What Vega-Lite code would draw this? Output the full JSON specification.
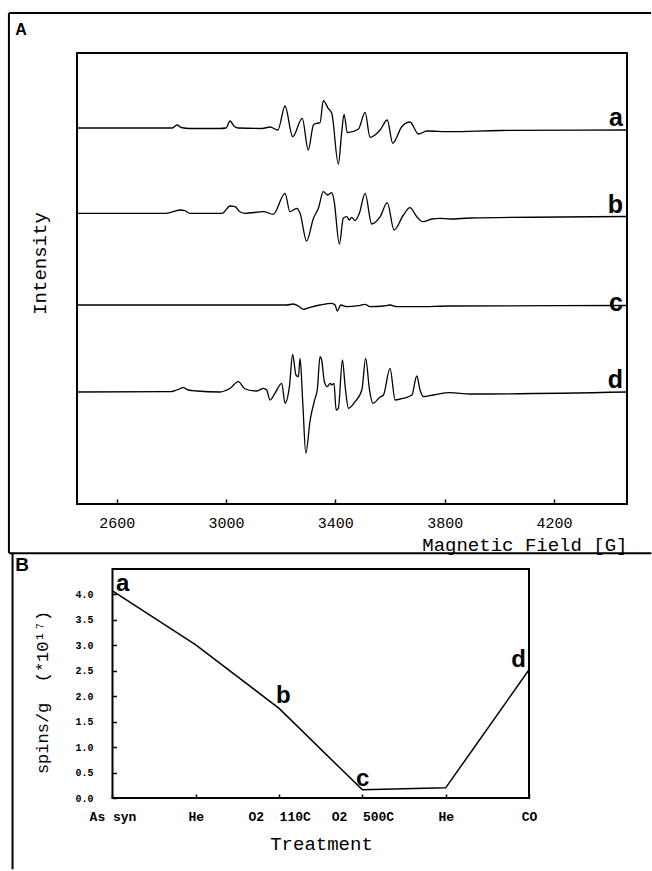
{
  "$schema": "https://vega.github.io/schema/vega-lite/v6.json",
  "padding": {"left": 6, "top": 11, "right": 0, "bottom": 0},
  "background": "white",
  "spacing": -3,
  "config": {
    "view": {"stroke": "black", "strokeWidth": 2},
    "axis": {"grid": false, "domain": false, "labelColor": "black", "titleColor": "black", "tickColor": "black", "tickWidth": 1.5, "labelFlush": false, "labelOverlap": false, "titleFontWeight": "normal", "titleFont": "Liberation Mono", "labelFont": "Liberation Mono"}
  },
  "datasets": {
    "epr": [
      {"trace":"a","field":2455,"intensity":376},{"trace":"a","field":2795,"intensity":376},{"trace":"a","field":2803,"intensity":376},{"trace":"a","field":2821,"intensity":379},{"trace":"a","field":2836,"intensity":376.5},{"trace":"a","field":2868,"intensity":375.5},{"trace":"a","field":2978,"intensity":375.5},{"trace":"a","field":3000,"intensity":376},{"trace":"a","field":3015,"intensity":383},{"trace":"a","field":3029,"intensity":378},{"trace":"a","field":3044,"intensity":376},{"trace":"a","field":3132,"intensity":375.5},{"trace":"a","field":3161,"intensity":377},{"trace":"a","field":3190,"intensity":374},{"trace":"a","field":3216,"intensity":398},{"trace":"a","field":3244,"intensity":367.3},{"trace":"a","field":3279,"intensity":385.7},{"trace":"a","field":3301,"intensity":354},{"trace":"a","field":3320,"intensity":379},{"trace":"a","field":3332,"intensity":380.7},{"trace":"a","field":3344,"intensity":381.3},{"trace":"a","field":3356,"intensity":403.3},{"trace":"a","field":3374,"intensity":395.7},{"trace":"a","field":3387,"intensity":390.7},{"trace":"a","field":3411,"intensity":340},{"trace":"a","field":3423,"intensity":370.7},{"trace":"a","field":3432,"intensity":389.7},{"trace":"a","field":3444,"intensity":371.3},{"trace":"a","field":3484,"intensity":374.7},{"trace":"a","field":3509,"intensity":391.7},{"trace":"a","field":3527,"intensity":366.7},{"trace":"a","field":3564,"intensity":374},{"trace":"a","field":3590,"intensity":384},{"trace":"a","field":3610,"intensity":360.7},{"trace":"a","field":3643,"intensity":377.3},{"trace":"a","field":3673,"intensity":382},{"trace":"a","field":3704,"intensity":370},{"trace":"a","field":3735,"intensity":373},{"trace":"a","field":3820,"intensity":372.3},{"trace":"a","field":4003,"intensity":373.5},{"trace":"a","field":4467,"intensity":374},
      {"trace":"b","field":2455,"intensity":290.7},{"trace":"b","field":2777,"intensity":290.7},{"trace":"b","field":2807,"intensity":292.3},{"trace":"b","field":2832,"intensity":294},{"trace":"b","field":2850,"intensity":293.3},{"trace":"b","field":2868,"intensity":290.7},{"trace":"b","field":2986,"intensity":290.7},{"trace":"b","field":3015,"intensity":298},{"trace":"b","field":3033,"intensity":297.3},{"trace":"b","field":3051,"intensity":292.3},{"trace":"b","field":3070,"intensity":290.7},{"trace":"b","field":3137,"intensity":292.3},{"trace":"b","field":3173,"intensity":289.7},{"trace":"b","field":3216,"intensity":310.7},{"trace":"b","field":3234,"intensity":292.3},{"trace":"b","field":3259,"intensity":295.7},{"trace":"b","field":3271,"intensity":290.7},{"trace":"b","field":3295,"intensity":263},{"trace":"b","field":3320,"intensity":285.7},{"trace":"b","field":3338,"intensity":295.7},{"trace":"b","field":3356,"intensity":312.3},{"trace":"b","field":3372,"intensity":309},{"trace":"b","field":3387,"intensity":311.3},{"trace":"b","field":3395,"intensity":304},{"trace":"b","field":3415,"intensity":260},{"trace":"b","field":3429,"intensity":285.7},{"trace":"b","field":3442,"intensity":287.3},{"trace":"b","field":3451,"intensity":284},{"trace":"b","field":3460,"intensity":286.7},{"trace":"b","field":3472,"intensity":283.3},{"trace":"b","field":3488,"intensity":290.7},{"trace":"b","field":3509,"intensity":310.7},{"trace":"b","field":3533,"intensity":280},{"trace":"b","field":3564,"intensity":287.3},{"trace":"b","field":3590,"intensity":301.3},{"trace":"b","field":3615,"intensity":274},{"trace":"b","field":3649,"intensity":289},{"trace":"b","field":3673,"intensity":296.3},{"trace":"b","field":3698,"intensity":287.3},{"trace":"b","field":3720,"intensity":282.3},{"trace":"b","field":3753,"intensity":285},{"trace":"b","field":3783,"intensity":285.7},{"trace":"b","field":3820,"intensity":285},{"trace":"b","field":3893,"intensity":286},{"trace":"b","field":4467,"intensity":287.5},
      {"trace":"c","field":2455,"intensity":199},{"trace":"c","field":3222,"intensity":199},{"trace":"c","field":3246,"intensity":200},{"trace":"c","field":3265,"intensity":198},{"trace":"c","field":3283,"intensity":194.7},{"trace":"c","field":3308,"intensity":196.7},{"trace":"c","field":3344,"intensity":199},{"trace":"c","field":3387,"intensity":200.7},{"trace":"c","field":3399,"intensity":199},{"trace":"c","field":3407,"intensity":193},{"trace":"c","field":3420,"intensity":199},{"trace":"c","field":3442,"intensity":197.3},{"trace":"c","field":3484,"intensity":198.3},{"trace":"c","field":3509,"intensity":199.7},{"trace":"c","field":3527,"intensity":197.3},{"trace":"c","field":3576,"intensity":198},{"trace":"c","field":3600,"intensity":199},{"trace":"c","field":3625,"intensity":197.3},{"trace":"c","field":3698,"intensity":197.3},{"trace":"c","field":3820,"intensity":198},{"trace":"c","field":4467,"intensity":198.5},
      {"trace":"d","field":2455,"intensity":112},{"trace":"d","field":2795,"intensity":112.3},{"trace":"d","field":2820,"intensity":114},{"trace":"d","field":2844,"intensity":116.3},{"trace":"d","field":2862,"intensity":114},{"trace":"d","field":2893,"intensity":113},{"trace":"d","field":2978,"intensity":112},{"trace":"d","field":3015,"intensity":115.7},{"trace":"d","field":3045,"intensity":122.3},{"trace":"d","field":3070,"intensity":115},{"trace":"d","field":3113,"intensity":113},{"trace":"d","field":3137,"intensity":115.7},{"trace":"d","field":3149,"intensity":114},{"trace":"d","field":3161,"intensity":104},{"trace":"d","field":3179,"intensity":110.7},{"trace":"d","field":3204,"intensity":120.7},{"trace":"d","field":3216,"intensity":100.7},{"trace":"d","field":3232,"intensity":117.3},{"trace":"d","field":3244,"intensity":149.7},{"trace":"d","field":3256,"intensity":129},{"trace":"d","field":3265,"intensity":127.3},{"trace":"d","field":3271,"intensity":145.7},{"trace":"d","field":3281,"intensity":100.7},{"trace":"d","field":3292,"intensity":50.7},{"trace":"d","field":3308,"intensity":84},{"trace":"d","field":3326,"intensity":105.7},{"trace":"d","field":3334,"intensity":114},{"trace":"d","field":3344,"intensity":147.3},{"trace":"d","field":3350,"intensity":144},{"trace":"d","field":3360,"intensity":122.3},{"trace":"d","field":3371,"intensity":117.3},{"trace":"d","field":3381,"intensity":120.7},{"trace":"d","field":3387,"intensity":119},{"trace":"d","field":3395,"intensity":120.7},{"trace":"d","field":3403,"intensity":94},{"trace":"d","field":3411,"intensity":95.7},{"trace":"d","field":3426,"intensity":144},{"trace":"d","field":3436,"intensity":117.3},{"trace":"d","field":3448,"intensity":95.7},{"trace":"d","field":3472,"intensity":102.3},{"trace":"d","field":3497,"intensity":114},{"trace":"d","field":3511,"intensity":145.7},{"trace":"d","field":3525,"intensity":114},{"trace":"d","field":3537,"intensity":100.7},{"trace":"d","field":3564,"intensity":107},{"trace":"d","field":3576,"intensity":109},{"trace":"d","field":3600,"intensity":135.7},{"trace":"d","field":3619,"intensity":104},{"trace":"d","field":3649,"intensity":105.7},{"trace":"d","field":3680,"intensity":109},{"trace":"d","field":3698,"intensity":128},{"trace":"d","field":3710,"intensity":114},{"trace":"d","field":3722,"intensity":107.3},{"trace":"d","field":3759,"intensity":109},{"trace":"d","field":3820,"intensity":111.3},{"trace":"d","field":3893,"intensity":110},{"trace":"d","field":4467,"intensity":112}
    ],
    "spins": [
      {"step":0,"treatment":"As syn","spins":4.07,"label":"a"},
      {"step":1,"treatment":"He","spins":3.01,"label":""},
      {"step":2,"treatment":"O2 110C","spins":1.76,"label":"b"},
      {"step":3,"treatment":"O2 500C","spins":0.16,"label":"c"},
      {"step":4,"treatment":"He","spins":0.2,"label":""},
      {"step":5,"treatment":"CO","spins":2.52,"label":"d"}
    ]
  },
  "vconcat": [
    {
      "width": 550,
      "height": 451,
      "layer": [
        {
          "data": {"name": "epr"},
          "mark": {"type": "line", "color": "black", "strokeWidth": 1.3, "interpolate": "monotone"},
          "encoding": {
            "x": {"field": "field", "type": "quantitative", "scale": {"domain": [2455, 4467], "nice": false, "zero": false},
              "axis": {"title": "Magnetic Field [G]", "values": [2600, 3000, 3400, 3800, 4200], "tickCount": 10, "format": "d", "labelOverlap": false, "labelFontSize": 15, "tickSize": -5, "labelPadding": 16, "titleFontSize": 19, "titleAnchor": "end", "titlePadding": 5}},
            "y": {"field": "intensity", "type": "quantitative", "scale": {"domain": [0, 451], "nice": false, "zero": false},
              "axis": {"title": "Intensity", "labels": false, "ticks": false, "titleFontSize": 19, "titlePadding": 28, "titleY": 210}},
            "detail": {"field": "trace"}
          }
        },
        {
          "data": {"name": "epr"},
          "transform": [{"filter": "datum.field == 4467 && datum.trace != 'c'"}],
          "mark": {"type": "text", "align": "right", "baseline": "alphabetic", "dx": -4, "dy": -4, "font": "Liberation Sans", "fontWeight": "bold", "fontSize": 25, "color": "black"},
          "encoding": {
            "x": {"field": "field", "type": "quantitative"},
            "y": {"field": "intensity", "type": "quantitative"},
            "text": {"field": "trace"}
          }
        },
        {
          "data": {"name": "epr"},
          "transform": [{"filter": "datum.field == 4467 && datum.trace == 'c'"}],
          "mark": {"type": "text", "align": "right", "baseline": "alphabetic", "dx": -4, "dy": 5, "font": "Liberation Sans", "fontWeight": "bold", "fontSize": 25, "color": "black"},
          "encoding": {
            "x": {"field": "field", "type": "quantitative"},
            "y": {"field": "intensity", "type": "quantitative"},
            "text": {"field": "trace"}
          }
        },
        {
          "data": {"values": [{}]},
          "mark": {"type": "rule", "color": "black", "strokeWidth": 2},
          "encoding": {"x": {"datum": 2206, "type": "quantitative"}, "y": {"datum": 491, "type": "quantitative"}, "y2": {"datum": -49}}
        },
        {
          "data": {"values": [{}]},
          "mark": {"type": "rule", "color": "black", "strokeWidth": 2},
          "encoding": {"x": {"datum": 2206, "type": "quantitative"}, "x2": {"datum": 4555}, "y": {"datum": 491, "type": "quantitative"}}
        },
        {
          "data": {"values": [{}]},
          "mark": {"type": "text", "text": "A", "font": "Liberation Sans", "fontWeight": "bold", "fontSize": 16, "align": "center", "baseline": "middle", "color": "black"},
          "encoding": {"x": {"datum": 2250, "type": "quantitative"}, "y": {"datum": 474, "type": "quantitative"}}
        }
      ]
    },
    {
      "width": 452,
      "height": 229,
      "view": {"stroke": null},
      "layer": [
        {
          "data": {"name": "spins"},
          "mark": {"type": "line", "color": "black", "strokeWidth": 1.5},
          "encoding": {
            "x": {"field": "step", "type": "quantitative", "scale": {"domain": [-0.426, 5], "nice": false, "zero": false},
              "axis": {"title": "Treatment", "values": [0, 1, 2, 3, 4, 5], "tickCount": 10, "labelExpr": "['As syn','He','O2\u00a0\u00a0110C','O2\u00a0\u00a0500C','He','CO'][datum.value]", "labelOverlap": false, "labelFontWeight": "bold", "labelFontSize": 13, "tickSize": -4, "labelPadding": 16.5, "titleFontSize": 19, "titlePadding": 11, "titleX": 244}},
            "y": {"field": "spins", "type": "quantitative", "scale": {"domain": [0, 4.5], "nice": false, "zero": false},
              "axis": {"title": "spins/g\u00a0\u00a0(*10¹⁷)", "offset": -35.5, "values": [0, 0.5, 1, 1.5, 2, 2.5, 3, 3.5, 4], "tickCount": 12, "format": ".1f", "labelOverlap": false, "labelFontWeight": "bold", "labelFontSize": 10, "tickSize": -4, "labelPadding": 23.5, "titleFontSize": 17, "titlePadding": 23, "titleY": 123}}
          }
        },
        {
          "data": {"values": [{}]},
          "mark": {"type": "rect", "filled": false, "stroke": "black", "strokeWidth": 2},
          "encoding": {"x": {"datum": 0, "type": "quantitative"}, "x2": {"datum": 5}, "y": {"datum": 0, "type": "quantitative"}, "y2": {"datum": 4.5}}
        },
        {
          "data": {"name": "spins"},
          "transform": [{"filter": "datum.label == 'a'"}],
          "mark": {"type": "text", "align": "left", "baseline": "alphabetic", "dx": 3.5, "dy": 0, "font": "Liberation Sans", "fontWeight": "bold", "fontSize": 24, "color": "black"},
          "encoding": {"x": {"field": "step", "type": "quantitative"}, "y": {"field": "spins", "type": "quantitative"}, "text": {"field": "label"}}
        },
        {
          "data": {"name": "spins"},
          "transform": [{"filter": "datum.label == 'b'"}],
          "mark": {"type": "text", "align": "left", "baseline": "alphabetic", "dx": -3, "dy": -5, "font": "Liberation Sans", "fontWeight": "bold", "fontSize": 24, "color": "black"},
          "encoding": {"x": {"field": "step", "type": "quantitative"}, "y": {"field": "spins", "type": "quantitative"}, "text": {"field": "label"}}
        },
        {
          "data": {"name": "spins"},
          "transform": [{"filter": "datum.label == 'c'"}],
          "mark": {"type": "text", "align": "left", "baseline": "alphabetic", "dx": -6.5, "dy": -4, "font": "Liberation Sans", "fontWeight": "bold", "fontSize": 24, "color": "black"},
          "encoding": {"x": {"field": "step", "type": "quantitative"}, "y": {"field": "spins", "type": "quantitative"}, "text": {"field": "label"}}
        },
        {
          "data": {"name": "spins"},
          "transform": [{"filter": "datum.label == 'd'"}],
          "mark": {"type": "text", "align": "right", "baseline": "alphabetic", "dx": -3, "dy": -3, "font": "Liberation Sans", "fontWeight": "bold", "fontSize": 24, "color": "black"},
          "encoding": {"x": {"field": "step", "type": "quantitative"}, "y": {"field": "spins", "type": "quantitative"}, "text": {"field": "label"}}
        },
        {
          "data": {"values": [{}]},
          "mark": {"type": "rule", "color": "black", "strokeWidth": 2},
          "encoding": {"x": {"datum": -1.2425, "type": "quantitative"}, "x2": {"datum": 6.47}, "y": {"datum": 4.81, "type": "quantitative"}}
        },
        {
          "data": {"values": [{}]},
          "mark": {"type": "rule", "color": "black", "strokeWidth": 2},
          "encoding": {"x": {"datum": -1.2, "type": "quantitative"}, "y": {"datum": 4.81, "type": "quantitative"}, "y2": {"datum": -1.4}}
        },
        {
          "data": {"values": [{}]},
          "mark": {"type": "text", "text": "B", "font": "Liberation Sans", "fontWeight": "bold", "fontSize": 19, "align": "center", "baseline": "middle", "color": "black"},
          "encoding": {"x": {"datum": -1.086, "type": "quantitative"}, "y": {"datum": 4.573, "type": "quantitative"}}
        }
      ]
    }
  ]
}
